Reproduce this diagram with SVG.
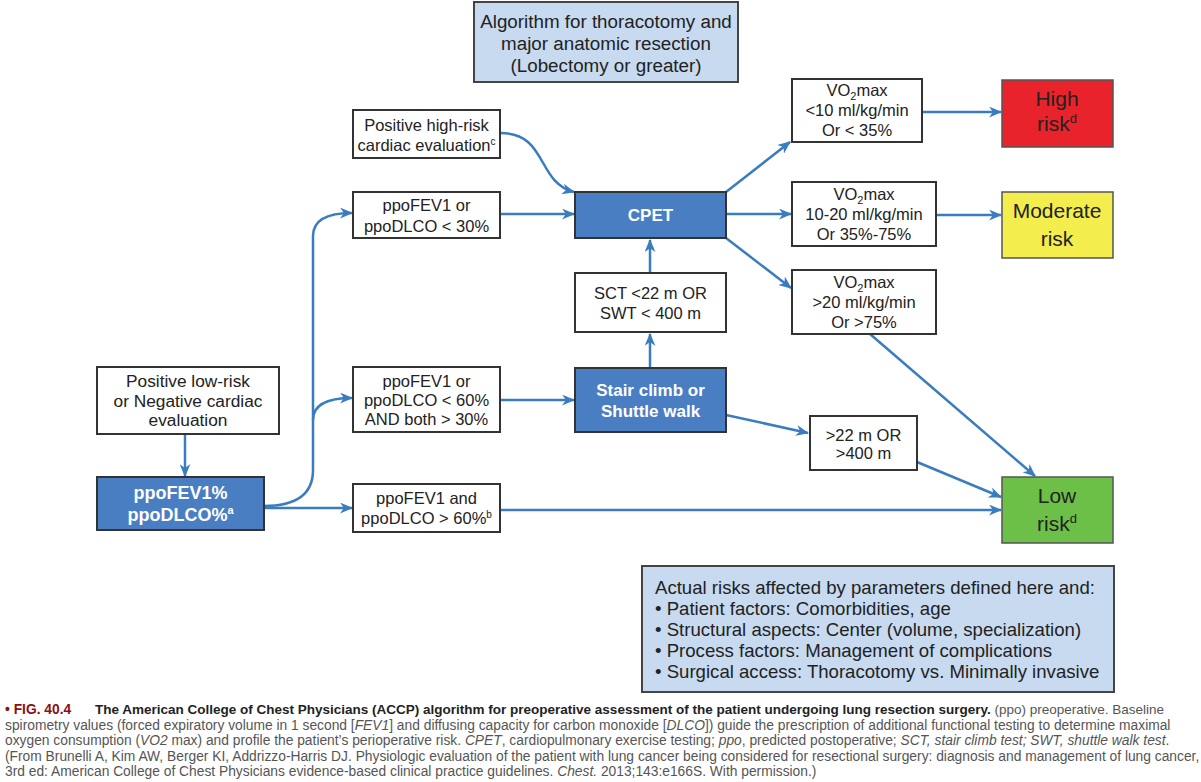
<svg xmlns="http://www.w3.org/2000/svg" width="1201" height="782" viewBox="0 0 1201 782">
<style>
.box{fill:#ffffff;stroke:#333333;stroke-width:2}
.lb{fill:#c7daf0;stroke:#444444;stroke-width:2}
.db{fill:#4a7ec2;stroke:#333333;stroke-width:2}
.t{font-family:"Liberation Sans",Arial,sans-serif;font-size:16.5px;fill:#222222;text-anchor:middle}
.tw{font-family:"Liberation Sans",Arial,sans-serif;font-size:17px;font-weight:bold;fill:#ffffff;text-anchor:middle}
.tr{font-family:"Liberation Sans",Arial,sans-serif;font-size:21px;fill:#222222;text-anchor:middle}
.tl{font-family:"Liberation Sans",Arial,sans-serif;font-size:18.6px;fill:#222222}
.c{font-family:"Liberation Sans",Arial,sans-serif;font-size:13.8px;fill:#555555}
.cb{font-weight:bold;fill:#222222}
.con path{fill:none;stroke:#3a7cc0;stroke-width:2.5;marker-end:url(#ah)}
</style>
<defs>
<marker id="ah" viewBox="0 0 12 10" refX="11" refY="5" markerWidth="13" markerHeight="11" markerUnits="userSpaceOnUse" orient="auto">
<path d="M0,0 L12,5 L0,10 L3.5,5 z" fill="#3a7cc0"/>
</marker>
</defs>
<rect width="1201" height="782" fill="#ffffff"/>

<g id="title">
<rect class="lb" x="474" y="2" width="264" height="80"/>
<text class="t" style="font-size:18.8px" x="606" y="28">Algorithm for thoracotomy and</text>
<text class="t" style="font-size:18.8px" x="606" y="50">major anatomic resection</text>
<text class="t" style="font-size:18.8px" x="606" y="72">(Lobectomy or greater)</text>
</g>

<g class="con" id="connectors">
<path d="M185,434 L185,476"/>
<path d="M264,506 Q313,506 313,470 L313,236 Q313,213 352,213"/>
<path d="M313,420 Q313,398 352,398"/>
<path d="M264,508 L352,508"/>
<path d="M500,214 L574,214"/>
<path d="M500,133 C548,133 536,182 574,192"/>
<path d="M726,192 L790,142"/>
<path d="M726,214 L791,214"/>
<path d="M726,238 L791,288"/>
<path d="M650,273 L650,240"/>
<path d="M650,368 L650,334"/>
<path d="M500,400 L574,400"/>
<path d="M726,415 L808,433"/>
<path d="M922,112 L1001,112"/>
<path d="M936,215 L1001,215"/>
<path d="M870,334 L1035,476"/>
<path d="M917,462 L1001,497"/>
<path d="M500,510 L1001,510"/>
</g>

<g id="high-risk-cardiac">
<rect class="box" x="353" y="110" width="147" height="48"/>
<text class="t" x="426.5" y="131">Positive high-risk</text>
<text class="t" x="426.5" y="151">cardiac evaluation<tspan font-size="10" dy="-6">c</tspan></text>
</g>

<g id="ppo-lt30">
<rect class="box" x="353" y="192" width="147" height="46"/>
<text class="t" x="426.5" y="211">ppoFEV1 or</text>
<text class="t" x="426.5" y="232">ppoDLCO &lt; 30%</text>
</g>

<g id="cpet">
<rect class="db" x="575" y="192" width="151" height="46"/>
<text class="tw" x="650.5" y="221">CPET</text>
</g>

<g id="sct">
<rect class="box" x="575" y="273" width="151" height="59"/>
<text class="t" x="650.5" y="299">SCT &lt;22 m OR</text>
<text class="t" x="650.5" y="319">SWT &lt; 400 m</text>
</g>

<g id="stair">
<rect class="db" x="575" y="368" width="151" height="64"/>
<text class="tw" x="650.5" y="396">Stair climb or</text>
<text class="tw" x="650.5" y="417">Shuttle walk</text>
</g>

<g id="ppo-lt60">
<rect class="box" x="353" y="367" width="147" height="65"/>
<text class="t" x="426.5" y="387">ppoFEV1 or</text>
<text class="t" x="426.5" y="406">ppoDLCO &lt; 60%</text>
<text class="t" x="426.5" y="425">AND both &gt; 30%</text>
</g>

<g id="low-risk-cardiac">
<rect class="box" x="97" y="367" width="182" height="67"/>
<text class="t" style="font-size:17.3px" x="188" y="387">Positive low-risk</text>
<text class="t" style="font-size:17.3px" x="188" y="407">or Negative cardiac</text>
<text class="t" style="font-size:17.3px" x="188" y="426">evaluation</text>
</g>

<g id="ppo-pct">
<rect class="db" x="97" y="477" width="167" height="53"/>
<text class="tw" style="font-size:18px" x="180.5" y="499">ppoFEV1%</text>
<text class="tw" style="font-size:18px" x="180.5" y="521">ppoDLCO%<tspan font-size="11" dy="-7">a</tspan></text>
</g>

<g id="ppo-gt60">
<rect class="box" x="353" y="484" width="147" height="48"/>
<text class="t" x="426.5" y="504">ppoFEV1 and</text>
<text class="t" x="426.5" y="524">ppoDLCO &gt; 60%<tspan font-size="10" dy="-6">b</tspan></text>
</g>

<g id="vo2-lt10">
<rect class="box" x="792" y="79" width="130" height="63"/>
<text class="t" x="857" y="96">VO<tspan font-size="11" dy="4">2</tspan><tspan dy="-4">max</tspan></text>
<text class="t" x="857" y="116">&lt;10 ml/kg/min</text>
<text class="t" x="857" y="136">Or &lt; 35%</text>
</g>

<g id="vo2-mid">
<rect class="box" x="792" y="182" width="144" height="64"/>
<text class="t" x="864" y="200">VO<tspan font-size="11" dy="4">2</tspan><tspan dy="-4">max</tspan></text>
<text class="t" x="864" y="220">10-20 ml/kg/min</text>
<text class="t" x="864" y="240">Or 35%-75%</text>
</g>

<g id="vo2-gt20">
<rect class="box" x="792" y="270" width="144" height="64"/>
<text class="t" x="864" y="288">VO<tspan font-size="11" dy="4">2</tspan><tspan dy="-4">max</tspan></text>
<text class="t" x="864" y="308">&gt;20 ml/kg/min</text>
<text class="t" x="864" y="328">Or &gt;75%</text>
</g>

<g id="high-risk">
<rect x="1002" y="80" width="111" height="67" fill="#e8232b" stroke="#555555" stroke-width="1.5"/>
<text class="tr" x="1057" y="106">High</text>
<text class="tr" x="1057" y="131">risk<tspan font-size="13" dy="-8">d</tspan></text>
</g>

<g id="moderate-risk">
<rect x="1002" y="192" width="111" height="66" fill="#f3ed4d" stroke="#555555" stroke-width="1.5"/>
<text class="tr" x="1057" y="218">Moderate</text>
<text class="tr" x="1057" y="246">risk</text>
</g>

<g id="walk-ok">
<rect class="box" x="810" y="416" width="107" height="54"/>
<text class="t" x="863.5" y="441">&gt;22 m OR</text>
<text class="t" x="863.5" y="459">&gt;400 m</text>
</g>

<g id="low-risk">
<rect x="1002" y="477" width="111" height="66" fill="#6cbf47" stroke="#555555" stroke-width="1.5"/>
<text class="tr" x="1057" y="503">Low</text>
<text class="tr" x="1057" y="531">risk<tspan font-size="13" dy="-8">d</tspan></text>
</g>

<g id="actual-risks">
<rect class="lb" x="642" y="566" width="472" height="126"/>
<text class="tl" x="655" y="594">Actual risks affected by parameters defined here and:</text>
<text class="tl" x="655" y="615">• Patient factors: Comorbidities, age</text>
<text class="tl" x="655" y="636">• Structural aspects: Center (volume, specialization)</text>
<text class="tl" x="655" y="657">• Process factors: Management of complications</text>
<text class="tl" x="655" y="678">• Surgical access: Thoracotomy vs. Minimally invasive</text>
</g>

<g id="caption">
<text class="c" x="5" y="714"><tspan fill="#8b1010" font-weight="bold">• FIG. 40.4</tspan></text>
<text class="c" style="font-size:13.5px" x="95" y="714"><tspan class="cb">The American College of Chest Physicians (ACCP) algorithm for preoperative assessment of the patient undergoing lung resection surgery.</tspan> (ppo) preoperative. Baseline</text>
<text class="c" x="5" y="729.5">spirometry values (forced expiratory volume in 1 second [<tspan font-style="italic">FEV1</tspan>] and diffusing capacity for carbon monoxide [<tspan font-style="italic">DLCO</tspan>]) guide the prescription of additional functional testing to determine maximal</text>
<text class="c" x="5" y="745">oxygen consumption (<tspan font-style="italic">VO2</tspan> max) and profile the patient’s perioperative risk. <tspan font-style="italic">CPET</tspan>, cardiopulmonary exercise testing; <tspan font-style="italic">ppo</tspan>, predicted postoperative; <tspan font-style="italic">SCT, stair climb test; SWT, shuttle walk test</tspan>.</text>
<text class="c" x="5" y="760.5">(From Brunelli A, Kim AW, Berger KI, Addrizzo-Harris DJ. Physiologic evaluation of the patient with lung cancer being considered for resectional surgery: diagnosis and management of lung cancer,</text>
<text class="c" x="5" y="776">3rd ed: American College of Chest Physicians evidence-based clinical practice guidelines. <tspan font-style="italic">Chest.</tspan> 2013;143:e166S. With permission.)</text>
</g>
</svg>
